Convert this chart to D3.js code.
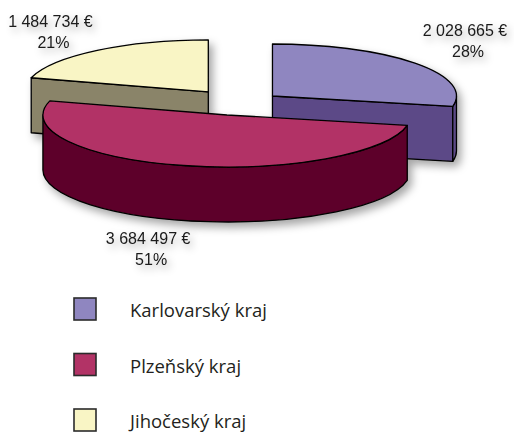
<!DOCTYPE html>
<html>
<head>
<meta charset="utf-8">
<script src="https://cdn.jsdelivr.net/npm/d3@7"></script>
<style>
  html, body { margin: 0; padding: 0; background: #ffffff; }
  svg { display: block; }
</style>
</head>
<body>
<div id="chart"></div>
<script>
// data
var regions = ["Karlovarský kraj", "Plzeňský kraj", "Jihočeský kraj"];
var amounts = [2028665, 3684497, 1484734];
var amountLabels = ["2 028 665 €", "3 684 497 €", "1 484 734 €"];
var percentLabels = ["28%", "51%", "21%"];

var topColors = ["#8f86c0", "#b23366", "#f9f5c5"];
var sideColors = ["#5c4a87", "#5d0029", "#8a8469"];

var width = 514, height = 433;
var cx = 241.5, cy = 101.6;      // pie centre before explode
var rx = 184, ry = 52, depth = 55;
var explode = [40, 62, 55];       // px, along mid angle
var explodeTilt = 0.222;
var labelRx = 250, labelRy = 90;
var labelNudge = [[-1, -3], [-20, -13], [-7, 7]];

var svg = d3.select("#chart").append("svg")
    .attr("width", width)
    .attr("height", height);

var defs = svg.append("defs");
var shadow = defs.append("filter")
    .attr("id", "pie_shadow")
    .attr("x", "-20%").attr("y", "-20%")
    .attr("width", "140%").attr("height", "160%");
shadow.append("feDropShadow")
    .attr("dx", 4).attr("dy", 5)
    .attr("stdDeviation", 4.5)
    .attr("flood-color", "#000")
    .attr("flood-opacity", 0.35);

var textShadow = defs.append("filter")
    .attr("id", "text_shadow")
    .attr("x", "-30%").attr("y", "-60%")
    .attr("width", "160%").attr("height", "220%");
textShadow.append("feGaussianBlur")
    .attr("in", "SourceAlpha").attr("stdDeviation", 4).attr("result", "blur");
textShadow.append("feOffset")
    .attr("in", "blur").attr("dx", 3).attr("dy", 4).attr("result", "off");
textShadow.append("feComponentTransfer")
    .attr("in", "off").attr("result", "soft")
    .append("feFuncA").attr("type", "linear").attr("slope", 0.35);
var tm = textShadow.append("feMerge");
tm.append("feMergeNode").attr("in", "soft");
tm.append("feMergeNode").attr("in", "SourceGraphic");

var pie = d3.pie().sort(null).value(d => d);
var arcs = pie(amounts);

// slice centres after explode
arcs.forEach(function(a, i) {
    var mid = (a.startAngle + a.endAngle) / 2;
    a.mid = mid;
    a.cx = cx + explode[i] * Math.sin(mid);
    a.cy = cy - explode[i] * explodeTilt * Math.cos(mid);
    a.i = i;
});

function pt(a, ang, dy) {
    return [a.cx + rx * Math.sin(ang), a.cy - ry * Math.cos(ang) + (dy || 0)];
}

function topPath(a) {
    var p0 = pt(a, a.startAngle), p1 = pt(a, a.endAngle);
    var large = (a.endAngle - a.startAngle) > Math.PI ? 1 : 0;
    return "M" + a.cx + "," + a.cy + "L" + p0 + "A" + rx + "," + ry + " 0 " + large + " 1 " + p1 + "Z";
}

function wallPath(a) {
    var s = Math.max(a.startAngle, Math.PI / 2);
    var e = Math.min(a.endAngle, Math.PI * 1.5);
    if (e <= s) return null;
    var large = (e - s) > Math.PI ? 1 : 0;
    var p0 = pt(a, s), p1 = pt(a, e), q1 = pt(a, e, depth), q0 = pt(a, s, depth);
    return "M" + p0 + "A" + rx + "," + ry + " 0 " + large + " 1 " + p1 +
        "L" + q1 + "A" + rx + "," + ry + " 0 " + large + " 0 " + q0 + "Z";
}

function facePath(a, ang) {
    var p = pt(a, ang), q = pt(a, ang, depth);
    return "M" + a.cx + "," + a.cy + "L" + p + "L" + q + "L" + a.cx + "," + (a.cy + depth) + "Z";
}

var pieGroup = svg.append("g").attr("filter", "url(#pie_shadow)");

// back slices first
var order = arcs.slice().sort((a, b) => a.cy - b.cy);

order.forEach(function(a) {
    var g = pieGroup.append("g").attr("class", "slice");
    var faces = [];
    if (Math.sin(a.startAngle) < -1e-6) faces.push(a.startAngle);
    if (Math.sin(a.endAngle) > 1e-6) faces.push(a.endAngle);
    faces.forEach(function(ang) {
        g.append("path")
            .attr("d", facePath(a, ang))
            .attr("fill", sideColors[a.i])
            .attr("stroke", "#000")
            .attr("stroke-width", 1.3)
            .attr("stroke-linejoin", "round");
    });
    var w = wallPath(a);
    if (w) {
        g.append("path")
            .attr("d", w)
            .attr("fill", sideColors[a.i])
            .attr("stroke", "#000")
            .attr("stroke-width", 1.3)
            .attr("stroke-linejoin", "round");
    }
    g.append("path")
        .attr("d", topPath(a))
        .attr("fill", topColors[a.i])
        .attr("stroke", "#000")
        .attr("stroke-width", 1.3)
        .attr("stroke-linejoin", "round");
});

// value labels
var labels = svg.append("g")
    .attr("font-family", "'Liberation Sans', Arial, sans-serif")
    .attr("font-size", 16)
    .attr("fill", "#1a1a1a")
    .attr("text-anchor", "middle")
    .attr("filter", "url(#text_shadow)");

arcs.forEach(function(a) {
    var lx = a.cx + labelRx * Math.sin(a.mid) + labelNudge[a.i][0];
    var ly = a.cy - labelRy * Math.cos(a.mid) + labelNudge[a.i][1];
    if (Math.cos(a.mid) < 0) ly += depth;
    var t = labels.append("text").attr("x", lx).attr("y", ly);
    t.append("tspan").attr("x", lx).attr("dy", 0).text(amountLabels[a.i]);
    t.append("tspan").attr("x", lx + 3).attr("dy", 20.5).text(percentLabels[a.i]);
});

// legend
var legend = svg.append("g")
    .attr("transform", "translate(74,298)");

var item = legend.selectAll("g")
    .data(regions)
    .enter().append("g")
        .attr("transform", (d, i) => "translate(0," + (i * 55.5) + ")");

item.append("rect")
    .attr("width", 22)
    .attr("height", 22)
    .attr("fill", (d, i) => topColors[i])
    .attr("stroke", "#2b2b2b")
    .attr("stroke-width", 1.6);

item.append("text")
    .attr("x", 56)
    .attr("y", 19)
    .attr("font-family", "'Open Sans', 'Noto Sans', sans-serif")
    .attr("font-size", 18.5)
    .attr("fill", "#231f20")
    .text(d => d);
</script>
</body>
</html>
